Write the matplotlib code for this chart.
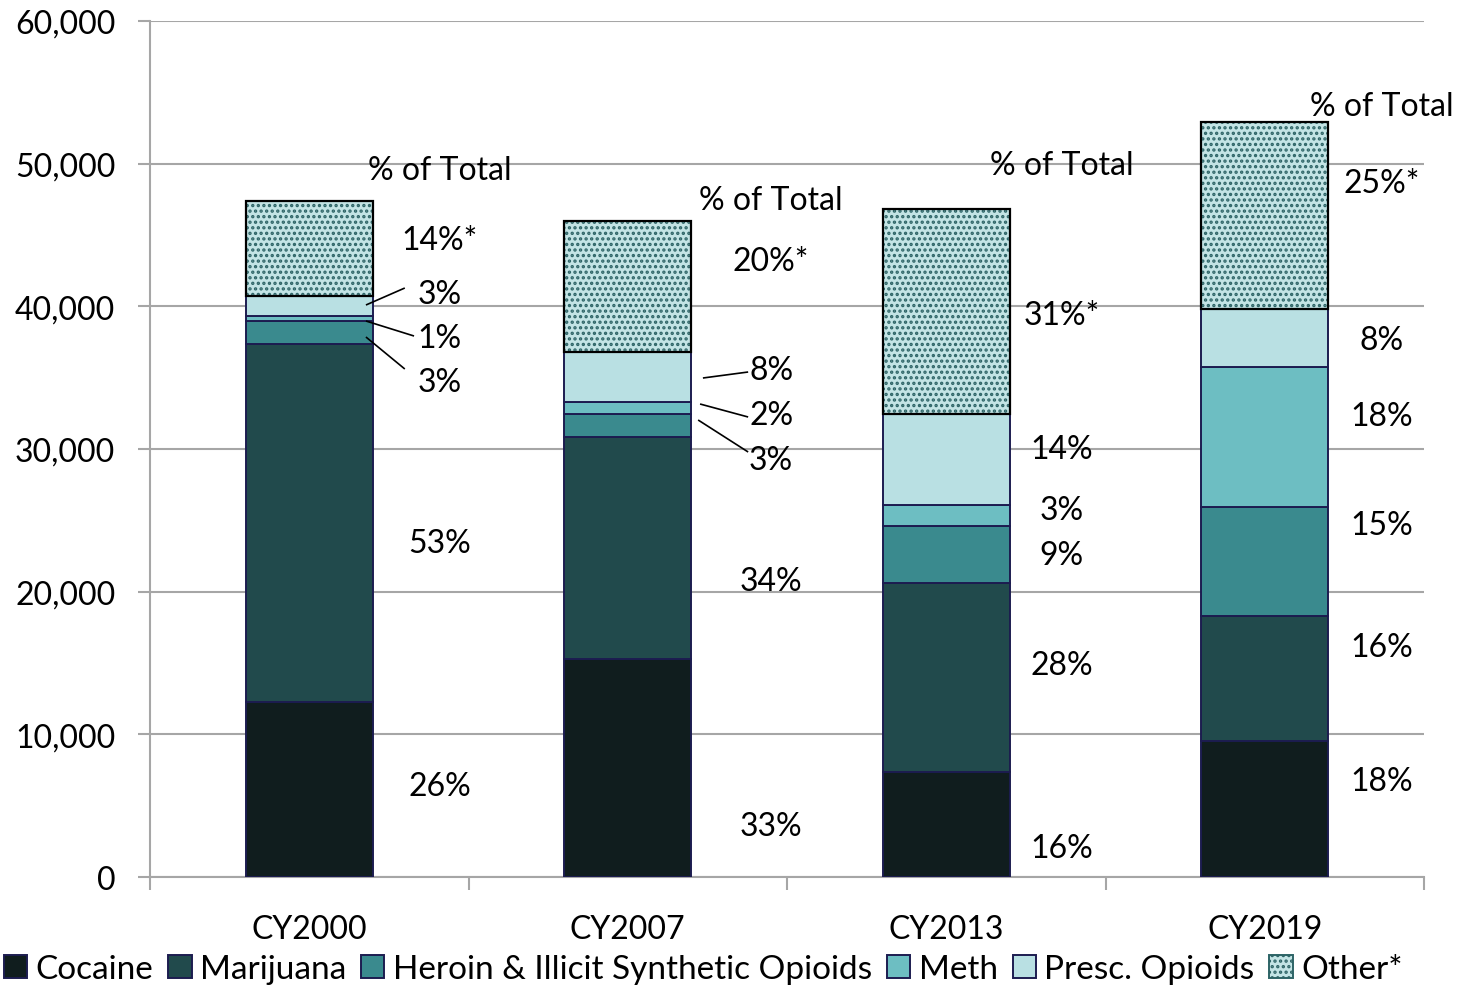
import matplotlib
matplotlib.use("Agg")
import matplotlib.pyplot as plt
from matplotlib.patches import Patch
from matplotlib.transforms import ScaledTranslation
import numpy as np

# ---------------- data ----------------
years = ["CY2000", "CY2007", "CY2013", "CY2019"]
series = ["Cocaine", "Marijuana", "Heroin & Illicit Synthetic Opioids", "Meth",
          "Presc. Opioids", "Other*"]
cocaine = [12300, 15300, 7350, 9550]
marijuana = [25050, 15550, 13250, 8750]
heroin = [1600, 1600, 4000, 7650]
meth = [350, 850, 1450, 9800]
presc = [1400, 3500, 6400, 4050]
other = [6700, 9200, 14400, 13150]

pct_labels = [
    ["26%", "53%", "3%", "1%", "3%", "14%*"],
    ["33%", "34%", "3%", "2%", "8%", "20%*"],
    ["16%", "28%", "9%", "3%", "14%", "31%*"],
    ["18%", "16%", "15%", "18%", "8%", "25%*"],
]
header = "% of Total"
yticks = [0, 10000, 20000, 30000, 40000, 50000, 60000]

# ---------------- layout (label placement) ----------------
label_dx = [0.41, 0.45, 0.363, 0.368]
label_y = [
    [6589, 23621, 34906, 37990, 41075, 44860, 49766],
    [3785, 20958, 29439, 32593, 35747, 43388, 47664],
    [2243, 15070, 22780, 25934, 30210, 39602, 50116],
    [6939, 16332, 24883, 32523, 37850, 48855, 54252],
]
# leader lines: (bar index, x0 offset, y0, x1 offset, y1)
leaders = [
    (0, 0.178, 40093, 0.300, 41285),
    (0, 0.178, 38972, 0.329, 37920),
    (0, 0.178, 37850, 0.300, 35607),
    (1, 0.236, 34976, 0.378, 35397),
    (1, 0.227, 33154, 0.378, 32243),
    (1, 0.221, 32033, 0.378, 29790),
]

colors = ["#101d1e", "#214a4c", "#3a8a8e", "#6dbec2", "#b9e0e3", "#c3e4e5"]
edge_c = "#1c1c50"
hatch_c = "#2d6466"

plt.rcParams['font.family'] = ['Lato', 'DejaVu Sans']
plt.rcParams['hatch.linewidth'] = 1.6

fig = plt.figure(figsize=(14.65, 9.87), dpi=100)
ax = fig.add_axes([150 / 1465, 1 - 878 / 987, (1424 - 150) / 1465, (878 - 22) / 987])

x = np.arange(len(years))
width = 0.4
data = [cocaine, marijuana, heroin, meth, presc, other]
bottom = np.zeros(len(years))
for i, vals in enumerate(data):
    vals = np.array(vals, dtype=float)
    if i < 5:
        ax.bar(x, vals, width, bottom=bottom, color=colors[i], edgecolor=edge_c,
               linewidth=1.4, zorder=3)
    else:
        ax.bar(x, vals, width, bottom=bottom, color=colors[i], edgecolor=hatch_c,
               hatch='...', linewidth=0, zorder=3)
        ax.bar(x, vals, width, bottom=bottom, fill=False, edgecolor="black",
               linewidth=1.6, zorder=4)
    bottom += vals

fs = 23
shift = ax.transData + ScaledTranslation(0, -3 / 100, fig.dpi_scale_trans)
for b in range(len(years)):
    texts = pct_labels[b] + [header]
    for j, t in enumerate(texts):
        ax.text(x[b] + label_dx[b], label_y[b][j], t, ha='center', va='center',
                fontsize=fs, color='black', zorder=5, transform=shift)

for b, x0, y0, x1, y1 in leaders:
    ax.plot([x[b] + x0, x[b] + x1], [y0, y1], color='black', lw=1.2, zorder=5,
            solid_capstyle='butt')

ax.set_xlim(-0.5, len(years) - 0.5)
ax.set_ylim(0, 60000)
ax.set_yticks(yticks)
ax.set_yticklabels([f"{v:,}" for v in yticks], fontsize=fs)
ax.yaxis.grid(True, color="#a6a6a6", lw=1.5, zorder=0)
ax.set_axisbelow(True)

ax.set_xticks(x)
ax.set_xticklabels(years, fontsize=fs)
ax.set_xticks(np.arange(-0.5, len(years)), minor=True)
ax.tick_params(axis='x', which='major', length=0, pad=27)
ax.tick_params(axis='x', which='minor', length=9, color="#a6a6a6", width=1.5)
ax.tick_params(axis='y', length=9, color="#a6a6a6", width=1.5, pad=16)

for s in ['top', 'right']:
    ax.spines[s].set_visible(False)
for s in ['left', 'bottom']:
    ax.spines[s].set_color("#a6a6a6")
    ax.spines[s].set_linewidth(1.5)

handles = []
for i, name in enumerate(series):
    if i < 5:
        handles.append(Patch(facecolor=colors[i], edgecolor=edge_c, linewidth=1.4, label=name))
    else:
        handles.append(Patch(facecolor=colors[i], edgecolor=hatch_c, hatch='...',
                             linewidth=1.4, label=name))
leg = fig.legend(handles=handles, loc='lower center', ncol=6, frameon=False,
                 fontsize=24, handlelength=0.7, handleheight=0.7,
                 handletextpad=0.25, columnspacing=0.45,
                 bbox_to_anchor=(0.48, -0.015), borderaxespad=0.1)

fig.savefig("out.png", dpi=100)
